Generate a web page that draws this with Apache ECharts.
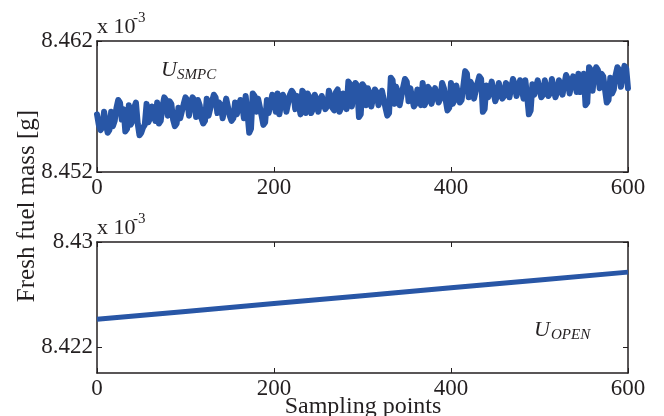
<!DOCTYPE html>
<html><head><meta charset="utf-8">
<script src="https://cdn.jsdelivr.net/npm/echarts@6/dist/echarts.min.js"></script>
<style>html,body{margin:0;padding:0;background:#fff}#c{width:664px;height:416px}</style>
</head><body><div id="c"></div>
<script>
// ---- data ----
const xTicks = [0, 200, 400, 600];
const smpcStep = 2; // sampling points between stored values
const smpcValues = [
 8.4564,8.4556,8.4552,8.4554,8.4566,8.4557,8.4550,8.4552,8.4566,8.4555,
 8.4559,8.4569,8.4575,8.4573,8.4560,8.4568,8.4551,8.4553,8.4571,8.4556,
 8.4559,8.4569,8.4573,8.4557,8.4548,8.4550,8.4554,8.4556,8.4572,8.4558,
 8.4561,8.4570,8.4569,8.4559,8.4573,8.4557,8.4559,8.4570,8.4577,8.4575,
 8.4563,8.4574,8.4572,8.4560,8.4555,8.4557,8.4569,8.4561,8.4561,8.4572,
 8.4577,8.4575,8.4563,8.4572,8.4577,8.4575,8.4562,8.4575,8.4571,8.4561,
 8.4557,8.4559,8.4576,8.4563,8.4564,8.4574,8.4579,8.4577,8.4565,8.4573,
 8.4571,8.4561,8.4562,8.4576,8.4576,8.4563,8.4559,8.4561,8.4573,8.4564,
 8.4564,8.4575,8.4572,8.4561,8.4578,8.4565,8.4550,8.4553,8.4580,8.4578,
 8.4566,8.4576,8.4575,8.4563,8.4556,8.4558,8.4575,8.4565,8.4566,8.4579,
 8.4574,8.4566,8.4580,8.4564,8.4565,8.4579,8.4576,8.4566,8.4567,8.4579,
 8.4582,8.4580,8.4568,8.4578,8.4577,8.4564,8.4582,8.4580,8.4565,8.4580,
 8.4577,8.4565,8.4568,8.4579,8.4576,8.4566,8.4567,8.4578,8.4579,8.4568,
 8.4570,8.4582,8.4578,8.4569,8.4567,8.4581,8.4583,8.4566,8.4569,8.4580,
 8.4578,8.4568,8.4589,8.4587,8.4570,8.4581,8.4588,8.4586,8.4562,8.4564,
 8.4587,8.4585,8.4571,8.4584,8.4580,8.4570,8.4570,8.4583,8.4581,8.4571,
 8.4572,8.4582,8.4582,8.4569,8.4563,8.4565,8.4592,8.4590,8.4572,8.4585,
 8.4581,8.4571,8.4572,8.4585,8.4591,8.4589,8.4574,8.4584,8.4583,8.4570,
 8.4572,8.4583,8.4582,8.4571,8.4588,8.4571,8.4574,8.4585,8.4583,8.4572,
 8.4573,8.4584,8.4584,8.4573,8.4576,8.4588,8.4584,8.4575,8.4567,8.4569,
 8.4588,8.4572,8.4575,8.4586,8.4585,8.4573,8.4575,8.4586,8.4597,8.4595,
 8.4577,8.4589,8.4586,8.4576,8.4576,8.4588,8.4593,8.4591,8.4566,8.4568,
 8.4586,8.4577,8.4577,8.4589,8.4588,8.4574,8.4578,8.4588,8.4587,8.4576,
 8.4578,8.4588,8.4586,8.4577,8.4576,8.4591,8.4587,8.4578,8.4579,8.4590,
 8.4589,8.4576,8.4590,8.4578,8.4564,8.4567,8.4587,8.4579,8.4579,8.4590,
 8.4589,8.4577,8.4579,8.4590,8.4589,8.4578,8.4580,8.4591,8.4590,8.4577,
 8.4581,8.4590,8.4590,8.4579,8.4580,8.4594,8.4591,8.4580,8.4581,8.4593,
 8.4590,8.4581,8.4595,8.4581,8.4582,8.4595,8.4571,8.4573,8.4600,8.4598,
 8.4582,8.4595,8.4600,8.4598,8.4584,8.4595,8.4593,8.4583,8.4573,8.4575,
 8.4592,8.4580,8.4583,8.4594,8.4600,8.4598,8.4585,8.4594,8.4601,8.4599,
 8.4584
];
const openSamples = [0, 100, 200, 300, 400, 500, 600];
const openValues = [8.4241, 8.4247, 8.4253, 8.4259, 8.4265, 8.4271, 8.4277];
const topYTicks = [8.452, 8.462];
const bottomYTicks = [8.422, 8.43];
const yAxisTitle = 'Fresh fuel mass [g]';
const xAxisTitle = 'Sampling points';

// ---- chart ----
const FONT = 'Liberation Serif';
const INK = '#231f20';
const BLUE = '#2856a6';
const smpcData = smpcValues.map((v, i) => [i * smpcStep, v]);
const openData = openSamples.map((s, i) => [s, openValues[i]]);

function xAx(grid, pos, labels) {
  return {
    type: 'value', gridIndex: grid, position: pos, min: 0, max: 600, interval: 200,
    axisLine: {show: true, onZero: false, lineStyle: {color: INK, width: 1.5}},
    axisTick: {show: true, inside: true, length: 5, lineStyle: {color: INK, width: 1}},
    axisLabel: {show: labels, fontFamily: FONT, fontSize: 23, color: INK, margin: 4,
      customValues: xTicks},
    splitLine: {show: false}
  };
}
function yAx(grid, pos, labels, min, max, ticks) {
  return {
    type: 'value', gridIndex: grid, position: pos, min: min, max: max,
    axisLine: {show: true, onZero: false, lineStyle: {color: INK, width: 1.5}},
    axisTick: {show: true, inside: true, length: 5, customValues: ticks, lineStyle: {color: INK, width: 1}},
    axisLabel: {show: labels, fontFamily: FONT, fontSize: 23, color: INK, margin: 4,
      customValues: ticks, formatter: v => String(+(+v).toFixed(3))},
    splitLine: {show: false}
  };
}

const chart = echarts.init(document.getElementById('c'), null, {renderer: 'canvas'});
chart.setOption({
  animation: false,
  backgroundColor: '#fff',
  grid: [
    {left: 97, top: 41, width: 531, height: 131},
    {left: 97, top: 242, width: 531, height: 131}
  ],
  xAxis: [xAx(0, 'bottom', true), xAx(0, 'top', false), xAx(1, 'bottom', true), xAx(1, 'top', false)],
  yAxis: [
    yAx(0, 'left', true, 8.452, 8.462, topYTicks), yAx(0, 'right', false, 8.452, 8.462, topYTicks),
    yAx(1, 'left', true, 8.420, 8.430, bottomYTicks), yAx(1, 'right', false, 8.420, 8.430, bottomYTicks)
  ],
  series: [
    {type: 'line', xAxisIndex: 0, yAxisIndex: 0, data: smpcData, showSymbol: false, smooth: false,
      lineStyle: {color: BLUE, width: 6, cap: 'round', join: 'round'}},
    {type: 'line', xAxisIndex: 2, yAxisIndex: 2, data: openData, showSymbol: false,
      lineStyle: {color: BLUE, width: 5}}
  ],
  graphic: [
    {type: 'text', left: 97, top: 16, style: {text: 'x 10', font: '22px ' + FONT, fill: INK}},
    {type: 'text', left: 133, top: 11, style: {text: '-3', font: '15px ' + FONT, fill: INK}},
    {type: 'text', left: 97, top: 217, style: {text: 'x 10', font: '22px ' + FONT, fill: INK}},
    {type: 'text', left: 133, top: 212, style: {text: '-3', font: '15px ' + FONT, fill: INK}},
    {type: 'text', left: 161, top: 59, style: {text: 'U', font: 'italic 22px ' + FONT, fill: INK}},
    {type: 'text', left: 177, top: 68, style: {text: 'SMPC', font: 'italic 15px ' + FONT, fill: INK}},
    {type: 'text', left: 534, top: 319, style: {text: 'U', font: 'italic 22px ' + FONT, fill: INK}},
    {type: 'text', left: 551, top: 328, style: {text: 'OPEN', font: 'italic 15px ' + FONT, fill: INK}},
    {type: 'text', x: 363, y: 395, style: {text: xAxisTitle, font: '24px ' + FONT, fill: INK, align: 'center', verticalAlign: 'top'}},
    {type: 'text', x: 27, y: 206, rotation: Math.PI / 2,
      style: {text: yAxisTitle, font: '25px ' + FONT, fill: INK, align: 'center', verticalAlign: 'middle'}}
  ]
});
</script>
</body></html>
